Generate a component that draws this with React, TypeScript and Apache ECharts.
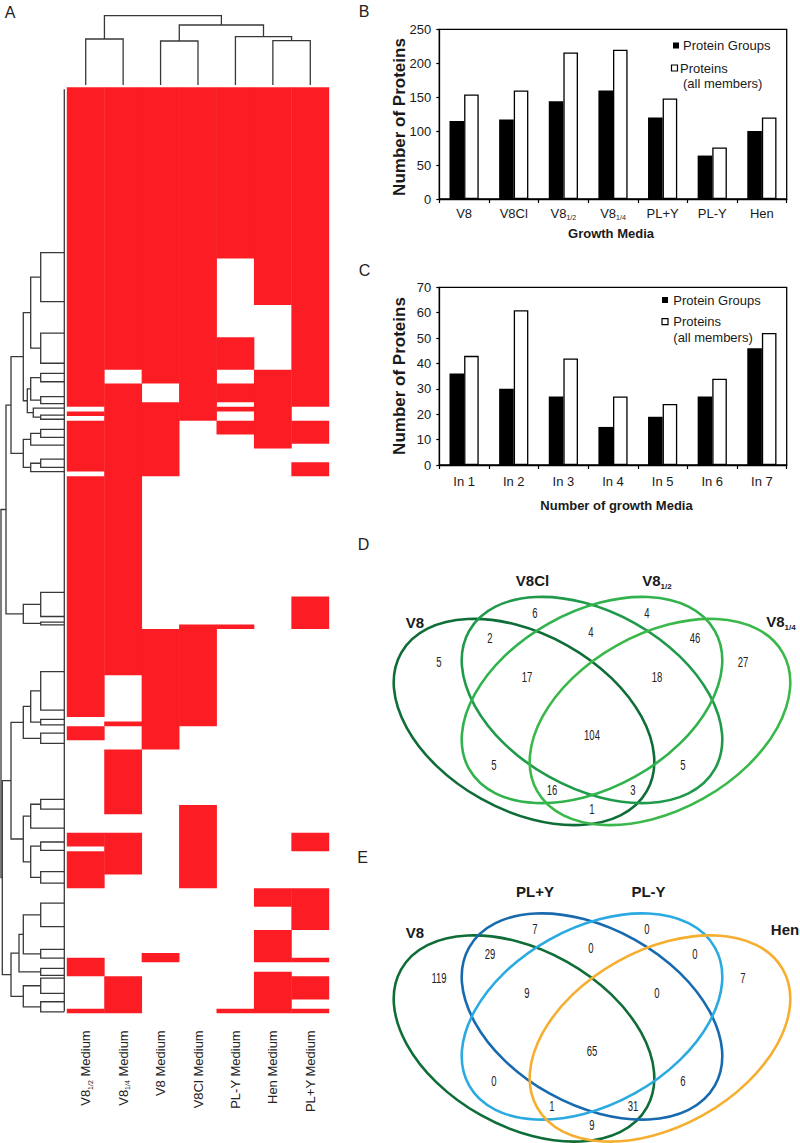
import React, { useEffect, useRef } from 'react';
import * as echarts from 'echarts';

// ---------------- DATA ----------------
// Panel A: heatmap columns (left to right) and presence patterns (rows grouped in runs, top to bottom)
const heatColumns = ['V8_1/2 Medium', 'V8_1/4 Medium', 'V8 Medium', 'V8Cl Medium', 'PL-Y Medium', 'Hen Medium', 'PL+Y Medium'];
// [number of protein rows, presence pattern per column]
const heatSegments: [number, string][] = [
  [37, '1111111'], [10, '1111011'], [7, '1111001'], [7, '1111101'], [3, '1011011'],
  [4, '1101111'], [1, '1111011'], [1, '0111110'], [1, '1111010'], [1, '0111010'],
  [3, '1110111'], [2, '1110011'], [1, '1110010'], [3, '1110000'], [2, '1110001'],
  [1, '0110001'], [26, '1100000'], [6, '1100001'], [1, '1101101'], [10, '1111000'],
  [9, '1011000'], [1, '0011000'], [1, '0111000'], [3, '1010000'], [2, '0010000'],
  [12, '0100000'], [2, '0101000'], [4, '0001000'], [3, '1101001'], [1, '0101001'],
  [5, '1101000'], [3, '1001000'], [4, '0000011'], [5, '0000001'], [5, '0000010'],
  [1, '0010010'], [1, '1010011'], [2, '1000000'], [1, '1000010'], [5, '0100011'],
  [2, '0100010'], [1, '1100111'],
];
// column dendrogram: [id, merge height, child A, child B]; numbers = column leaves
const colTree: [string, number, number | string, number | string][] = [
  ['c1', 46, 0, 1], ['c2', 44, 2, 3], ['c3', 44.3, 5, 6], ['c4', 48.3, 4, 'c3'],
  ['c5', 60, 'c2', 'c4'], ['c6', 69.3, 'c1', 'c5'],
];
// row dendrogram: [id, merge height, child A, child B]; numbers = row positions of leaf clusters
const rowTree: [string, number, number | string, number | string][] = [
  ['n1', 23.6, 35.7, 46.3], ['n2', 23.6, 53.1, 59.6], ['n3', 33.6, 'n1', 'n2'],
  ['n4', 23.6, 61.8, 63.6], ['n5', 23.6, 66.8, 68.3], ['n6', 33.6, 'n4', 'n5'],
  ['n7', 23.6, 70.8, 71.7], ['n8', 31, 69.3, 'n7'], ['n9', 37, 'n6', 'n8'],
  ['n10', 41, 'n3', 'n9'], ['n11', 23.6, 73.9, 75.6], ['n12', 33.6, 'n11', 77.3],
  ['n13', 23.6, 80.3, 82.1], ['n14', 33.6, 'n13', 83.0], ['n15', 41, 'n12', 'n14'],
  ['n16', 53.3, 'n10', 'n15'], ['m1', 23.6, 109.1, 114.3], ['m2', 23.6, 115.5, 116.1],
  ['m3', 41, 'm1', 'm2'], ['r1', 58.3, 'n16', 'm3'],
  ['p1', 23.6, 126.2, 134.5], ['p2', 23.6, 136.5, 137.7], ['p3', 33.6, 'p1', 'p2'],
  ['p4', 23.6, 139.5, 141.7], ['p5', 41, 'p3', 'p4'],
  ['q1', 23.6, 153.8, 155.9], ['q2', 33.6, 'q1', 160.0], ['q3', 23.6, 163.0, 164.8],
  ['q4', 23.6, 169.4, 171.9], ['q5', 33.6, 'q3', 'q4'], ['q6', 41, 'q2', 'q5'],
  ['L1', 53.3, 'p5', 'q6'],
  ['t1', 23.6, 176.2, 181.3], ['t2', 23.6, 186.2, 188.1], ['t3', 41, 't1', 't2'],
  ['t4', 23.6, 190.3, 191.8], ['t5', 45.3, 't3', 't4'],
  ['s1', 23.6, 192.4, 195.7], ['s2', 23.6, 197.5, 199.7], ['s3', 41, 's1', 's2'],
  ['L2', 53.3, 't5', 's3'], ['low', 62, 'L1', 'L2'], ['root', 63.3, 'r1', 'low'],
];

// Panel B
const mediaB = ['V8', 'V8Cl', 'V8_1/2', 'V8_1/4', 'PL+Y', 'PL-Y', 'Hen'];
const groupsB = [115, 117, 144, 160, 120, 64, 100];
const proteinsB = [154, 160, 216, 220, 148, 76, 120];

// Panel C
const inMedia = ['In 1', 'In 2', 'In 3', 'In 4', 'In 5', 'In 6', 'In 7'];
const groupsC = [36, 30, 27, 15, 19, 27, 46];
const proteinsC = [43, 61, 42, 27, 24, 34, 52];

// Panel D / E Venn
const vennDSets = ['V8', 'V8Cl', 'V8_1/2', 'V8_1/4'];
// regions: A, B, C, D, AB, BC, CD, ABC, BCD, ABCD, AC, BD, ACD, ABD, AD
const vennDCounts = [5, 6, 4, 27, 2, 4, 46, 17, 18, 104, 5, 5, 16, 3, 1];
const vennESets = ['V8', 'PL+Y', 'PL-Y', 'Hen'];
const vennECounts = [119, 7, 0, 7, 29, 0, 0, 9, 0, 65, 0, 6, 1, 31, 9];

// ---------------- LAYOUT / STYLE ----------------
const FONT = '"Liberation Sans", Arial, Helvetica, sans-serif';
const RED = '#fb1c24';
const INK = '#1a1a1a';
const DENDRO = '#383838';
const VENN_RX = 141;
const VENN_RY = 88;
const TILT = 0.511;
const vennEllipses = [
  { dx: -68, dy: 22, rot: -TILT },
  { dx: 0, dy: 0, rot: -TILT },
  { dx: 0, dy: 0, rot: TILT },
  { dx: 68, dy: 22, rot: TILT },
];
const vennRegionOffsets: [number, number][] = [
  [-153, -38], [-57, -87], [55, -87], [151, -38], [-102, -62], [-1, -68], [103, -62],
  [-65, -23], [65, -23], [0, 35], [-98, 65], [91, 65], [-40, 90], [41, 90], [0, 109],
];
const vennDOrigin: [number, number] = [592, 700];
const vennEOrigin: [number, number] = [592, 1016.5];
const vennDColors = ['#0f6d37', '#1f9a4b', '#30b24d', '#3bb84a'];
const vennEColors = ['#0f6d37', '#176aae', '#2aaae1', '#f6ae30'];
const vennDLabelPos: [number, number][] = [[415, 622], [532.5, 580], [657, 580], [781, 621.5]];
const vennELabelPos: [number, number][] = [[415, 932], [535, 891], [648.5, 891], [785, 929]];

function richLabel(s: string): string {
  const m = s.match(/^(.*?)_(\d\/\d)(.*)$/);
  if (!m) return `{m|${s}}`;
  return `{m|${m[1]}}{s|${m[2]}}` + (m[3] ? `{m|${m[3]}}` : '');
}

function buildRuns(): [number, number, number][] {
  const runs: [number, number, number][] = [];
  for (let c = 0; c < heatColumns.length; c++) {
    let row = 0;
    let start = -1;
    for (const [n, pat] of heatSegments) {
      const on = pat[c] === '1';
      if (on && start < 0) start = row;
      if (!on && start >= 0) {
        runs.push([c, start, row]);
        start = -1;
      }
      row += n;
    }
    if (start >= 0) runs.push([c, start, row]);
  }
  return runs;
}

function treeLines(nodes: [string, number, number | string, number | string][], heightOnX: boolean) {
  const map: Record<string, { h: number; pos: number }> = {};
  const posOf = (c: number | string) => (typeof c === 'number' ? c : map[c].pos);
  const hOf = (c: number | string) => (typeof c === 'number' ? 0 : map[c].h);
  const out: { coords: number[][] }[] = [];
  for (const [id, h, a, b] of nodes) {
    const pa = posOf(a);
    const pb = posOf(b);
    map[id] = { h, pos: (pa + pb) / 2 };
    const pts = [[hOf(a), pa], [h, pa], [h, pb], [hOf(b), pb]];
    out.push({ coords: heightOnX ? pts : pts.map(([hh, p]) => [p, hh]) });
  }
  return out;
}

const hiddenAxis = {
  axisLine: { show: false },
  axisTick: { show: false },
  axisLabel: { show: false },
  splitLine: { show: false },
};

function txt(x: number, y: number, text: string, font: string, extra: any = {}) {
  const align = extra.align || 'center';
  return {
    type: 'text',
    x,
    y,
    rotation: extra.rotation || 0,
    scaleX: extra.scaleX || 1,
    silent: true,
    style: {
      text,
      font,
      fill: extra.fill || INK,
      align,
      textAlign: align,
      verticalAlign: 'middle',
      textVerticalAlign: 'middle',
      rich: extra.rich,
    },
  };
}

function vennGraphics(origin: [number, number], colors: string[], sets: string[], counts: number[], labelPos: [number, number][]) {
  const els: any[] = [];
  vennEllipses.forEach((e, i) => {
    els.push({
      type: 'ellipse',
      x: origin[0] + e.dx,
      y: origin[1] + e.dy,
      rotation: e.rot,
      silent: true,
      shape: { cx: 0, cy: 0, rx: VENN_RX, ry: VENN_RY },
      style: { fill: 'none', stroke: colors[i], lineWidth: 2.6 },
    });
  });
  counts.forEach((c, i) => {
    const [dx, dy] = vennRegionOffsets[i];
    els.push(txt(origin[0] + dx, origin[1] + dy, String(c), `14px ${FONT}`, { scaleX: 0.68, fill: '#222' }));
  });
  sets.forEach((s, i) => {
    els.push(
      txt(labelPos[i][0], labelPos[i][1], richLabel(s), `bold 15px ${FONT}`, {
        rich: {
          m: { font: `bold 15px ${FONT}`, fill: INK, lineHeight: 20, verticalAlign: 'middle' },
          s: { font: `bold 8px ${FONT}`, fill: INK, lineHeight: 20, verticalAlign: 'bottom' },
        },
      })
    );
  });
  return els;
}

function legend(x0: number, y1: number, textX1: number, sqX2: number, textX2: number, y2: number, y3: number) {
  return [
    { type: 'rect', silent: true, shape: { x: x0, y: y1 - 3, width: 6, height: 6 }, style: { fill: '#000' } },
    txt(textX1, y1, 'Protein Groups', `13px ${FONT}`, { align: 'left' }),
    { type: 'rect', silent: true, shape: { x: sqX2, y: y2 - 3, width: 6, height: 6 }, style: { fill: '#fff', stroke: '#000', lineWidth: 1.2 } },
    txt(textX2, y2, 'Proteins', `13px ${FONT}`, { align: 'left' }),
    txt(textX1, y3, '(all members)', `13px ${FONT}`, { align: 'left' }),
  ];
}

function barAxes(gridIndex: number, cats: string[], max: number, interval: number, labelMargin: number) {
  const rich = {
    m: { fontSize: 13, fontFamily: FONT, color: INK, lineHeight: 16, verticalAlign: 'middle' },
    s: { fontSize: 7, fontFamily: FONT, color: INK, lineHeight: 16, verticalAlign: 'bottom' },
  };
  return {
    x: {
      type: 'category',
      gridIndex,
      data: cats,
      axisLine: { show: true, lineStyle: { color: '#000', width: 1.3 } },
      axisTick: { show: true, length: 4, inside: false, lineStyle: { color: '#000', width: 1.2 } },
      axisLabel: { margin: labelMargin, interval: 0, formatter: (v: string) => richLabel(v), rich },
      splitLine: { show: false },
    },
    y: {
      type: 'value',
      gridIndex,
      min: 0,
      max,
      interval,
      axisLine: { show: true, lineStyle: { color: '#000', width: 1.3 } },
      axisTick: { show: true, length: 3, inside: false, lineStyle: { color: '#000', width: 1.2 } },
      axisLabel: { margin: 8, fontSize: 13, fontFamily: FONT, color: INK },
      splitLine: { show: false },
    },
  };
}

function buildOption() {
  const runs = buildRuns();
  const colLines = treeLines(colTree, false);
  const rowLines = treeLines(rowTree, true);
  rowLines.push({ coords: [[0, 0.4], [0, 199.6]] });

  const axB = barAxes(3, mediaB, 250, 50, 6);
  const axC = barAxes(4, inMedia, 70, 10, 8);

  const gridBase = { outerBoundsMode: 'none', containLabel: false };
  const heatRich = {
    m: { fontSize: 13, fontFamily: FONT, color: '#222', lineHeight: 16, verticalAlign: 'middle' },
    s: { fontSize: 7, fontFamily: FONT, color: '#222', lineHeight: 16, verticalAlign: 'bottom' },
  };

  return {
    animation: false,
    backgroundColor: '#fff',
    textStyle: { fontFamily: FONT },
    grid: [
      { ...gridBase, left: 67, top: 87.3, width: 262, height: 926 },
      { ...gridBase, left: 67, top: 15, width: 262, height: 70 },
      { ...gridBase, left: 1, top: 87.3, width: 63.3, height: 926 },
      { ...gridBase, left: 439.3, top: 29.3, width: 347.4, height: 169.7, show: true, borderColor: '#000', borderWidth: 1.3, backgroundColor: 'transparent' },
      { ...gridBase, left: 439.3, top: 287.3, width: 347.4, height: 177.7, show: true, borderColor: '#000', borderWidth: 1.3, backgroundColor: 'transparent' },
    ],
    xAxis: [
      {
        type: 'category',
        gridIndex: 0,
        data: heatColumns,
        axisLine: { show: false },
        axisTick: { show: false },
        splitLine: { show: false },
        axisLabel: { rotate: 90, margin: 17, interval: 0, formatter: (v: string) => richLabel(v), rich: heatRich },
      },
      { type: 'value', gridIndex: 1, min: -0.5, max: 6.5, ...hiddenAxis },
      { type: 'value', gridIndex: 2, min: 0, max: 63.3, inverse: true, ...hiddenAxis },
      axB.x,
      axC.x,
    ],
    yAxis: [
      { type: 'value', gridIndex: 0, min: 0, max: 200, inverse: true, ...hiddenAxis },
      { type: 'value', gridIndex: 1, min: 0, max: 70, ...hiddenAxis },
      { type: 'value', gridIndex: 2, min: 0, max: 200, inverse: true, ...hiddenAxis },
      axB.y,
      axC.y,
    ],
    series: [
      {
        type: 'custom',
        xAxisIndex: 0,
        yAxisIndex: 0,
        silent: true,
        data: runs,
        encode: { x: 0, y: [1, 2] },
        renderItem: (params: any, api: any) => {
          const c = api.value(0);
          const p0 = api.coord([c, api.value(1)]);
          const p1 = api.coord([c, api.value(2)]);
          const w = api.size([1, 0])[0];
          return {
            type: 'rect',
            shape: { x: p0[0] - w / 2 - 0.2, y: p0[1], width: w + 0.4, height: p1[1] - p0[1] },
            style: { fill: RED },
          };
        },
      },
      {
        type: 'lines',
        coordinateSystem: 'cartesian2d',
        xAxisIndex: 1,
        yAxisIndex: 1,
        polyline: true,
        silent: true,
        lineStyle: { color: DENDRO, width: 1.3, opacity: 1 },
        data: colLines,
      },
      {
        type: 'lines',
        coordinateSystem: 'cartesian2d',
        xAxisIndex: 2,
        yAxisIndex: 2,
        polyline: true,
        silent: true,
        lineStyle: { color: DENDRO, width: 1.3, opacity: 1 },
        data: rowLines,
      },
      { type: 'bar', xAxisIndex: 3, yAxisIndex: 3, data: groupsB, barWidth: 14.6, barGap: '0%', itemStyle: { color: '#000' }, silent: true },
      { type: 'bar', xAxisIndex: 3, yAxisIndex: 3, data: proteinsB, barWidth: 14.6, barGap: '0%', itemStyle: { color: '#fff', borderColor: '#000', borderWidth: 1.3 }, silent: true },
      { type: 'bar', xAxisIndex: 4, yAxisIndex: 4, data: groupsC, barWidth: 14.6, barGap: '0%', itemStyle: { color: '#000' }, silent: true },
      { type: 'bar', xAxisIndex: 4, yAxisIndex: 4, data: proteinsC, barWidth: 14.6, barGap: '0%', itemStyle: { color: '#fff', borderColor: '#000', borderWidth: 1.3 }, silent: true },
    ],
    graphic: {
      elements: [
        txt(10, 12.5, 'A', `16px ${FONT}`, { fill: '#222' }),
        txt(364, 11.5, 'B', `16px ${FONT}`, { fill: '#222' }),
        txt(364.5, 270.5, 'C', `16px ${FONT}`, { fill: '#222' }),
        txt(363.5, 544.5, 'D', `16px ${FONT}`, { fill: '#222' }),
        txt(362.5, 857.5, 'E', `16px ${FONT}`, { fill: '#222' }),
        txt(399.5, 117, 'Number of Proteins', `bold 17px ${FONT}`, { rotation: Math.PI / 2 }),
        txt(399.5, 376, 'Number of Proteins', `bold 17px ${FONT}`, { rotation: Math.PI / 2 }),
        txt(611, 233, 'Growth Media', `bold 13px ${FONT}`),
        txt(616.5, 505, 'Number of growth Media', `bold 13px ${FONT}`),
        ...legend(673, 45.5, 683, 671.5, 680, 68, 83.5),
        ...legend(662, 300, 673.3, 662, 673.3, 321.7, 337.7),
        ...vennGraphics(vennDOrigin, vennDColors, vennDSets, vennDCounts, vennDLabelPos),
        ...vennGraphics(vennEOrigin, vennEColors, vennESets, vennECounts, vennELabelPos),
      ],
    },
  };
}

export default function App() {
  const ref = useRef<HTMLDivElement>(null);
  useEffect(() => {
    if (!ref.current) return;
    const chart = echarts.init(ref.current, null, { renderer: 'svg' });
    chart.setOption(buildOption() as any);
    return () => chart.dispose();
  }, []);
  return <div ref={ref} style={{ position: 'absolute', left: 0, top: 0, width: 800, height: 1143, background: '#fff' }} />;
}
